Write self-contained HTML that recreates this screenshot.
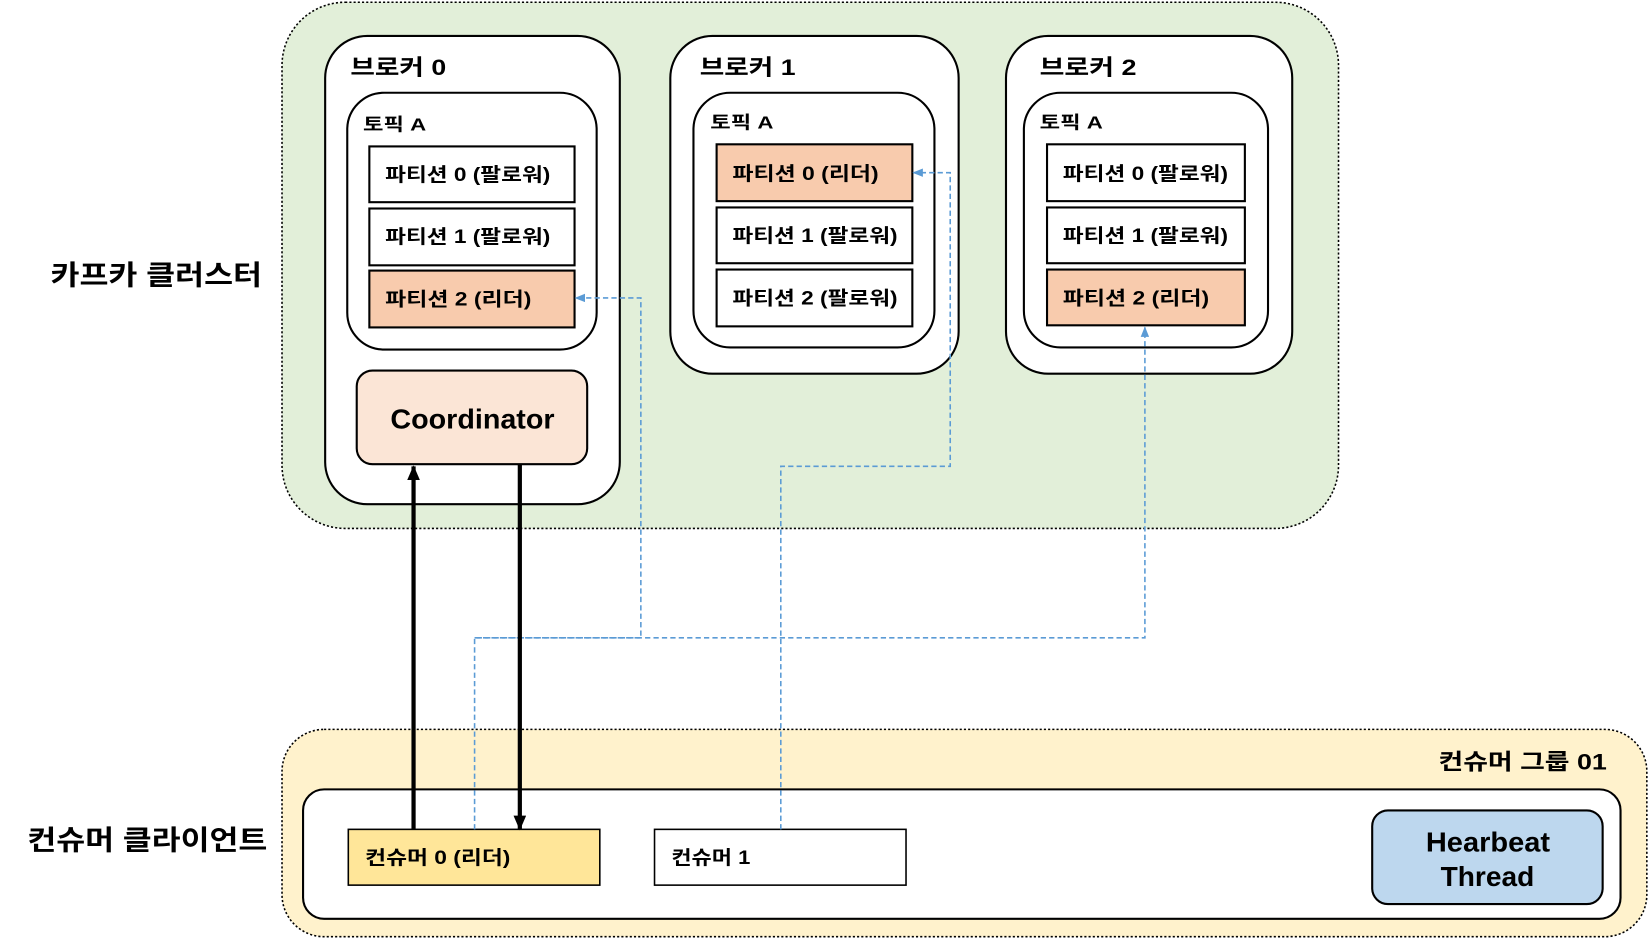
<!DOCTYPE html>
<html><head><meta charset="utf-8"><style>
html,body{margin:0;padding:0;background:#fff;width:1650px;height:940px;overflow:hidden}
svg text{font-family:"Liberation Sans","Noto Sans CJK KR",sans-serif;font-weight:bold;fill:#000}
</style></head><body>
<svg width="1650" height="940" viewBox="0 0 1568 893" xmlns="http://www.w3.org/2000/svg">
<defs>
<marker id="ab" markerWidth="10" markerHeight="8" refX="9" refY="4" orient="auto" markerUnits="userSpaceOnUse"><path d="M0,0 L10,4 L0,8 Z" fill="#5b9bd5"/></marker>
<marker id="ak" markerWidth="14" markerHeight="12" refX="13" refY="6" orient="auto" markerUnits="userSpaceOnUse"><path d="M0,0 L14,6 L0,12 Z" fill="#000"/></marker>
</defs>
<rect x="268" y="2" width="1004" height="500" rx="60" fill="#e2efd9" stroke="#000" stroke-width="1.5" stroke-dasharray="2,2"/>
<rect x="268" y="693" width="1297" height="197" rx="40" fill="#fff2cc" stroke="#000" stroke-width="1.5" stroke-dasharray="2,2"/>
<text x="48" y="270" font-size="26" textLength="201" lengthAdjust="spacingAndGlyphs">카프카 클러스터</text>
<text x="26" y="807" font-size="26" textLength="228" lengthAdjust="spacingAndGlyphs">컨슈머 클라이언트</text>
<text x="1367" y="731" font-size="21" textLength="160" lengthAdjust="spacingAndGlyphs">컨슈머 그룹 01</text>
<rect x="288" y="750" width="1252" height="123" rx="20" fill="#fff" stroke="#000" stroke-width="2"/>
<!-- broker 0 -->
<rect x="309" y="34" width="280" height="445" rx="40" fill="#fff" stroke="#000" stroke-width="2"/>
<text x="333" y="71" font-size="21" textLength="91" lengthAdjust="spacingAndGlyphs">브로커 0</text>
<rect x="330" y="88" width="237" height="244" rx="35" fill="#fff" stroke="#000" stroke-width="2"/>
<text x="345" y="124" font-size="17" textLength="60" lengthAdjust="spacingAndGlyphs">토픽 A</text>
<rect x="351" y="139" width="195" height="53" fill="#fff" stroke="#000" stroke-width="2"/>
<text x="366" y="172" font-size="18" textLength="157" lengthAdjust="spacingAndGlyphs">파티션 0 (팔로워)</text>
<rect x="351" y="198" width="195" height="54" fill="#fff" stroke="#000" stroke-width="2"/>
<text x="366" y="231" font-size="18" textLength="157" lengthAdjust="spacingAndGlyphs">파티션 1 (팔로워)</text>
<rect x="351" y="257" width="195" height="54" fill="#f8cbad" stroke="#000" stroke-width="2"/>
<text x="366" y="290" font-size="18" textLength="139" lengthAdjust="spacingAndGlyphs">파티션 2 (리더)</text>
<rect x="339" y="352" width="219" height="89" rx="15" fill="#fbe5d6" stroke="#000" stroke-width="2"/>
<text x="371" y="407" font-size="26" textLength="156" lengthAdjust="spacingAndGlyphs">Coordinator</text>
<!-- broker 1 -->
<rect x="637" y="34" width="274" height="321" rx="40" fill="#fff" stroke="#000" stroke-width="2"/>
<text x="665" y="71" font-size="21" textLength="91" lengthAdjust="spacingAndGlyphs">브로커 1</text>
<rect x="659" y="88" width="229" height="242" rx="35" fill="#fff" stroke="#000" stroke-width="2"/>
<text x="675" y="122" font-size="17" textLength="60" lengthAdjust="spacingAndGlyphs">토픽 A</text>
<rect x="681" y="137" width="186" height="54" fill="#f8cbad" stroke="#000" stroke-width="2"/>
<text x="696" y="171" font-size="18" textLength="139" lengthAdjust="spacingAndGlyphs">파티션 0 (리더)</text>
<rect x="681" y="197" width="186" height="53" fill="#fff" stroke="#000" stroke-width="2"/>
<text x="696" y="230" font-size="18" textLength="157" lengthAdjust="spacingAndGlyphs">파티션 1 (팔로워)</text>
<rect x="681" y="256" width="186" height="54" fill="#fff" stroke="#000" stroke-width="2"/>
<text x="696" y="289" font-size="18" textLength="157" lengthAdjust="spacingAndGlyphs">파티션 2 (팔로워)</text>
<!-- broker 2 -->
<rect x="956" y="34" width="272" height="321" rx="40" fill="#fff" stroke="#000" stroke-width="2"/>
<text x="988" y="71" font-size="21" textLength="92" lengthAdjust="spacingAndGlyphs">브로커 2</text>
<rect x="973" y="88" width="232" height="242" rx="35" fill="#fff" stroke="#000" stroke-width="2"/>
<text x="988" y="122" font-size="17" textLength="60" lengthAdjust="spacingAndGlyphs">토픽 A</text>
<rect x="995" y="137" width="188" height="54" fill="#fff" stroke="#000" stroke-width="2"/>
<text x="1010" y="171" font-size="18" textLength="157" lengthAdjust="spacingAndGlyphs">파티션 0 (팔로워)</text>
<rect x="995" y="197" width="188" height="53" fill="#fff" stroke="#000" stroke-width="2"/>
<text x="1010" y="230" font-size="18" textLength="157" lengthAdjust="spacingAndGlyphs">파티션 1 (팔로워)</text>
<rect x="995" y="256" width="188" height="53" fill="#f8cbad" stroke="#000" stroke-width="2"/>
<text x="1010" y="289" font-size="18" textLength="139" lengthAdjust="spacingAndGlyphs">파티션 2 (리더)</text>
<!-- consumers -->
<rect x="331" y="788" width="239" height="53" fill="#ffe699" stroke="#000" stroke-width="1.5"/>
<text x="347" y="821" font-size="18" textLength="138" lengthAdjust="spacingAndGlyphs">컨슈머 0 (리더)</text>
<rect x="622" y="788" width="239" height="53" fill="#fff" stroke="#000" stroke-width="1.5"/>
<text x="638" y="821" font-size="18" textLength="75" lengthAdjust="spacingAndGlyphs">컨슈머 1</text>
<rect x="1304" y="770" width="219" height="89" rx="15" fill="#bdd7ee" stroke="#000" stroke-width="2"/>
<text x="1355" y="809" font-size="26" textLength="118" lengthAdjust="spacingAndGlyphs">Hearbeat</text>
<text x="1369" y="842" font-size="26" textLength="89" lengthAdjust="spacingAndGlyphs">Thread</text>
<!-- dashed -->
<g fill="none" stroke="#5b9bd5" stroke-width="1.5" stroke-dasharray="5,3">
<path d="M451,788 L451,606 L1088,606 L1088,311" marker-end="url(#ab)"/>
<path d="M451,606 L609,606 L609,283 L547,283" marker-end="url(#ab)"/>
<path d="M742,788 L742,443 L903,443 L903,164 L868,164" marker-end="url(#ab)"/>
</g>
<!-- thick -->
<line x1="393" y1="788" x2="393" y2="443" stroke="#000" stroke-width="4" marker-end="url(#ak)"/>
<line x1="494" y1="441" x2="494" y2="788" stroke="#000" stroke-width="4" marker-end="url(#ak)"/>
</svg>
</body></html>
